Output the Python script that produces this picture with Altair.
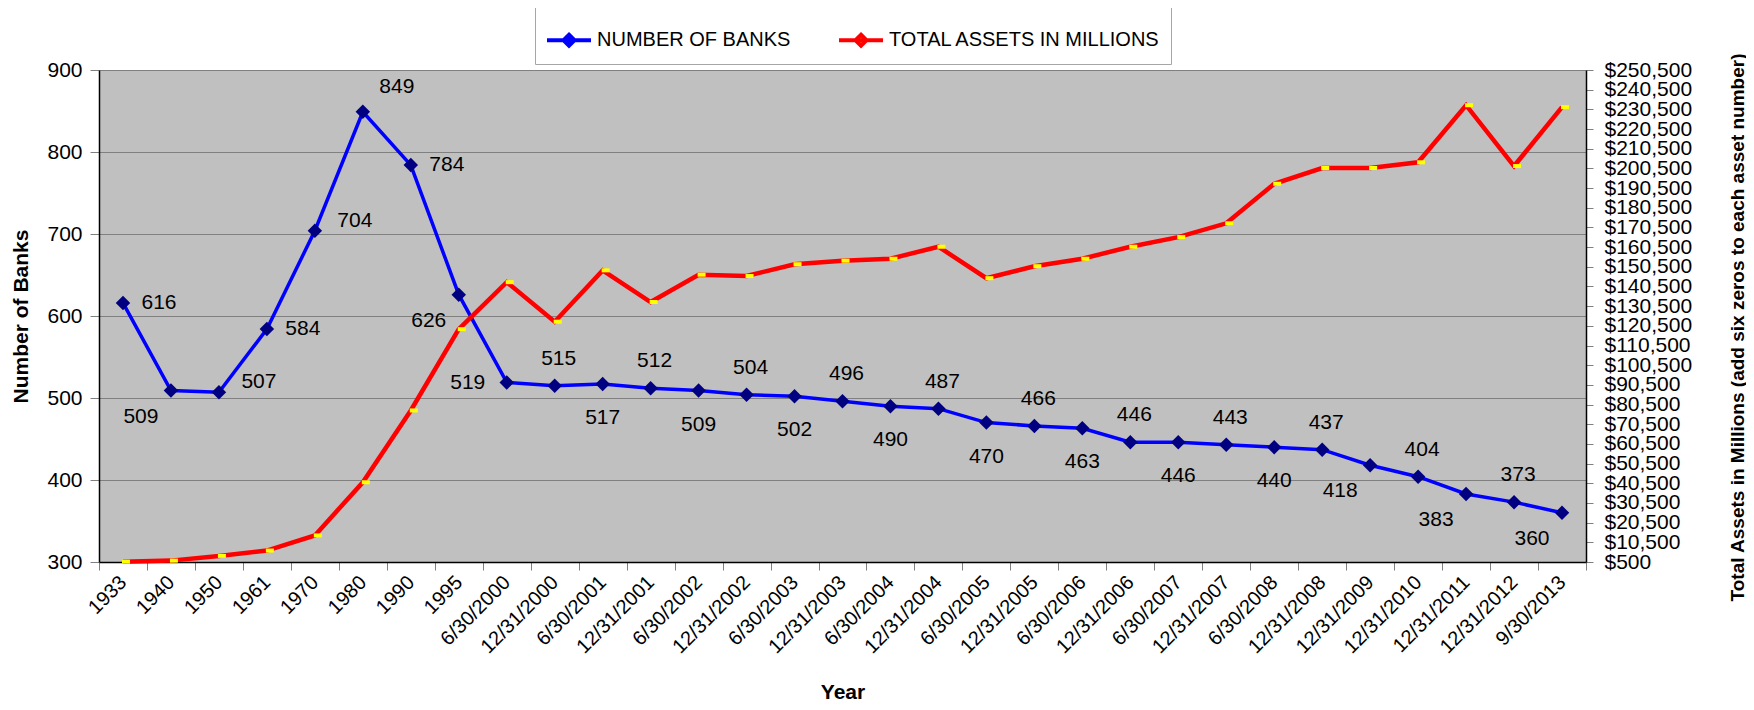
import altair as alt
import pandas as pd

dates = ["1933", "1940", "1950", "1961", "1970", "1980", "1990", "1995",
         "6/30/2000", "12/31/2000", "6/30/2001", "12/31/2001", "6/30/2002",
         "12/31/2002", "6/30/2003", "12/31/2003", "6/30/2004", "12/31/2004",
         "6/30/2005", "12/31/2005", "6/30/2006", "12/31/2006", "6/30/2007",
         "12/31/2007", "6/30/2008", "12/31/2008", "12/31/2009", "12/31/2010",
         "12/31/2011", "12/31/2012", "9/30/2013"]

banks = [616, 509, 507, 584, 704, 849, 784, 626, 519, 515, 517, 512, 509, 504,
         502, 496, 490, 487, 470, 466, 463, 446, 446, 443, 440, 437, 418, 404,
         383, 373, 360]

assets = [650, 1200, 3600, 6300, 14000, 41000, 77500, 118800, 142700, 122600,
          148700, 132600, 146500, 145800, 151800, 153600, 154600, 160700,
          144700, 150800, 154600, 160700, 165600, 172600, 192700, 200700,
          200700, 203600, 232600, 201700, 231600]

# where each bank-count label sits relative to its point
label_pos = ["R", "BL", "RU", "R", "RU", "AR", "R", "BL", "L", "A", "B", "A",
             "B", "A", "B", "A", "B", "A", "B", "A", "B", "A", "B", "A", "B",
             "A", "BL", "A", "BL", "A", "BL"]

left_ticks = [300, 400, 500, 600, 700, 800, 900]
right_ticks = list(range(500, 250501, 10000))

S_BANKS = "NUMBER OF BANKS"
S_ASSETS = "TOTAL ASSETS IN MILLIONS"

banks_df = pd.DataFrame({"Date": dates, "Series": S_BANKS, "Value": banks,
                         "Pos": label_pos})
assets_df = pd.DataFrame({"Date": dates, "Series": S_ASSETS, "Value": assets})

FONT = "Liberation Sans"

x_enc = alt.X(
    "Date:N", sort=dates,
    scale=alt.Scale(type="band", paddingInner=0, paddingOuter=0),
    axis=alt.Axis(title="Year", labelAngle=-45, labelAlign="right",
                  labelBaseline="middle", labelFontSize=20, labelPadding=9,
                  labelOverlap=False, labelColor="black",
                  tickBand="extent", tickColor="#808080", tickSize=8,
                  domainColor="black", domainWidth=1.5, grid=False,
                  titleFontSize=21, titleFontWeight="bold", titleY=130,
                  titleBaseline="middle", titleColor="black"))

y_left = alt.Y(
    "Value:Q", scale=alt.Scale(domain=[300, 900]),
    axis=alt.Axis(orient="left", values=left_ticks, title="Number of Banks",
                  grid=True, gridColor="#808080", tickColor="#808080",
                  tickSize=9, domainColor="black", domainWidth=1.5,
                  labelFontSize=21, labelPadding=8, labelColor="black",
                  titleFontSize=21, titleFontWeight="bold", titleX=-78,
                  titleBaseline="middle", titleColor="black"))

y_right = alt.Y(
    "Value:Q", scale=alt.Scale(domain=[500, 250500]),
    axis=alt.Axis(orient="right", values=right_ticks, format="$,.0f",
                  title="Total Assets in Millions (add six zeros to each asset number)",
                  grid=False, tickColor="#808080", tickSize=7,
                  domainColor="black", domainWidth=1.5,
                  labelFontSize=21, labelPadding=11, labelOverlap=False,
                  labelFlush=False, labelColor="black",
                  titleFontSize=19, titleFontWeight="bold", titleAngle=270,
                  titleX=151, titleY=257, titleBaseline="middle",
                  titleColor="black"))

stroke_scale = alt.Scale(domain=[S_BANKS, S_ASSETS], range=["#0000FF", "#FF0000"])
fill_scale = alt.Scale(domain=[S_BANKS, S_ASSETS], range=["#000080", "#FFFF00"])

legend = alt.Legend(
    title=None, orient="none", legendX=436, legendY=-64,
    direction="horizontal",
    symbolType="M-1,0L1,0M0,-0.25L0.25,0L0,0.25L-0.25,0Z",
    symbolSize=1936, symbolStrokeWidth=4, labelFontSize=20,
    labelColor="black", labelOffset=4, labelLimit=0, columnPadding=40,
    strokeColor="#A6A6A6", fillColor="white", padding=10)

banks_line = alt.Chart(banks_df).mark_line(strokeWidth=3.5).encode(
    x=x_enc, y=y_left,
    stroke=alt.Stroke("Series:N", scale=stroke_scale, legend=legend))
banks_pts = alt.Chart(banks_df).mark_point(
    shape="diamond", filled=True, size=210, opacity=1).encode(
    x=x_enc, y=y_left,
    fill=alt.Fill("Series:N", scale=fill_scale, legend=legend))

offsets = {"R": (36, 0), "RU": (40, -10), "AR": (34, -25), "L": (-39, 1),
           "A": (4, -27), "B": (0, 34), "BL": (-30, 26)}
label_layers = []
for key, (dx, dy) in offsets.items():
    label_layers.append(
        alt.Chart(banks_df).transform_filter(alt.datum.Pos == key)
        .mark_text(fontSize=21, dx=dx, dy=dy, align="center",
                   baseline="middle", color="black", font=FONT)
        .encode(x=x_enc, y=y_left, text="Value:Q"))

banks_layer = alt.layer(banks_line, banks_pts, *label_layers)

assets_line = alt.Chart(assets_df).mark_line(strokeWidth=4.5).encode(
    x=x_enc, y=y_right,
    stroke=alt.Stroke("Series:N", scale=stroke_scale, legend=legend))
assets_pts = alt.Chart(assets_df).mark_point(
    shape="M-1,-0.5L1,-0.5L1,0.5L-1,0.5Z", filled=True, size=64,
    opacity=1, xOffset=3).encode(
    x=x_enc, y=y_right,
    fill=alt.Fill("Series:N", scale=fill_scale, legend=legend))
assets_layer = alt.layer(assets_line, assets_pts)

chart = (
    alt.layer(banks_layer, assets_layer)
    .resolve_scale(y="independent")
    .properties(width=1487, height=492,
                padding={"left": 91, "top": 62, "right": 160, "bottom": 140},
                autosize=alt.AutoSizeParams(type="none"))
    .configure(font=FONT)
    .configure_view(fill="#C0C0C0", stroke=None)
)

chart.save("out.html", embed_options={"renderer": "svg", "actions": False})
